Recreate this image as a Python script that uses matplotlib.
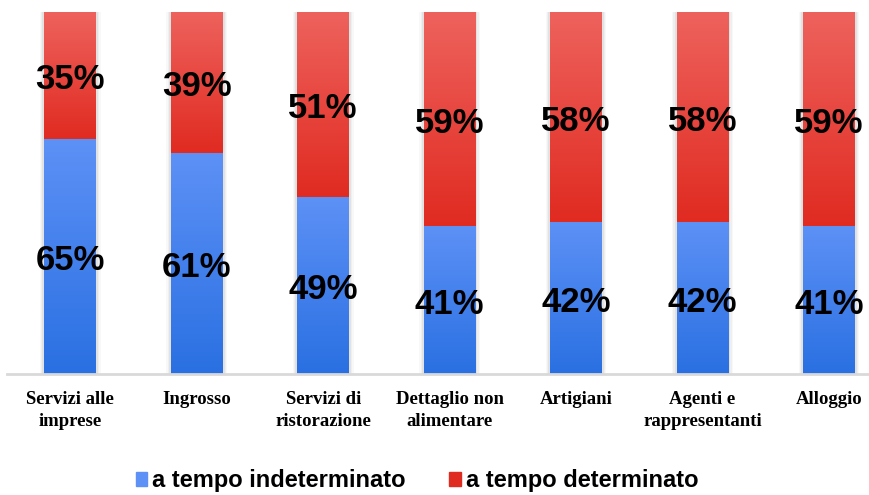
import numpy as np
import matplotlib
matplotlib.use("Agg")
import matplotlib.pyplot as plt
from matplotlib.patches import Patch
from matplotlib.colors import LinearSegmentedColormap

categories = ["Servizi alle\nimprese", "Ingrosso", "Servizi di\nristorazione",
              "Dettaglio non\nalimentare", "Artigiani", "Agenti e\nrappresentanti", "Alloggio"]
indeterminato = [65, 61, 49, 41, 42, 42, 41]
determinato = [35, 39, 51, 59, 58, 58, 59]
series_names = ["a tempo indeterminato", "a tempo determinato"]

blue_top, blue_bot = "#5d91f6", "#2a70e2"
red_top, red_bot = "#ee625d", "#e02b21"

fig = plt.figure(figsize=(8.69, 4.95), dpi=100)
ax = fig.add_axes([7/869, 121/495, 862/869, 362/495])

x = np.arange(len(categories))
w = 0.41

# soft shadow
for extra, a in [(0.07, 0.06), (0.05, 0.08), (0.03, 0.12)]:
    ax.bar(x, [b + r for b, r in zip(indeterminato, determinato)], width=w + extra,
           color="#888888", alpha=a, linewidth=0, zorder=1)

b1 = ax.bar(x, indeterminato, width=w, color=blue_bot, linewidth=0, zorder=2)
b2 = ax.bar(x, determinato, width=w, bottom=indeterminato, color=red_bot, linewidth=0, zorder=2)

grad = np.linspace(0, 1, 256).reshape(-1, 1)
cm_blue = LinearSegmentedColormap.from_list("b", [blue_bot, blue_top])
cm_red = LinearSegmentedColormap.from_list("r", [red_bot, red_top])
for bars, cm in [(b1, cm_blue), (b2, cm_red)]:
    for p in bars:
        x0, y0, pw, ph = p.get_x(), p.get_y(), p.get_width(), p.get_height()
        im = ax.imshow(grad, cmap=cm, aspect="auto", origin="lower",
                       extent=(x0, x0 + pw, y0, y0 + ph), zorder=3, interpolation="bilinear")
        im.set_clip_path(p)

lab = dict(ha="center", va="baseline", fontsize=25, fontweight="bold",
           family="Liberation Sans", zorder=5, textcoords="offset points", xytext=(0, -10))
for i in range(len(categories)):
    ax.annotate(f"{indeterminato[i]}%", (x[i], indeterminato[i] / 2), **lab)
    ax.annotate(f"{determinato[i]}%", (x[i], indeterminato[i] + determinato[i] / 2), **lab)

ax.set_xlim(-0.5, 6.316)
ax.set_ylim(0, 100)
for s in ["top", "right", "left"]:
    ax.spines[s].set_visible(False)
ax.spines["bottom"].set_color("#d9d9d9")
ax.spines["bottom"].set_linewidth(2)
ax.spines["bottom"].set_zorder(6)
ax.set_yticks([])
ax.set_xticks(x)
ax.set_xticklabels(categories, family="Liberation Serif", fontweight="bold", fontsize=13.5,
                   linespacing=1.4)
ax.tick_params(axis="x", length=0, pad=12)

handles = [Patch(color=blue_top), Patch(color=red_bot)]
fig.legend(handles, series_names, loc="center", bbox_to_anchor=(417/869, 1 - 481/495),
           ncol=2, frameon=False, handlelength=0.5, handleheight=0.5, handletextpad=0.2,
           columnspacing=1.85, prop={"family": "Liberation Sans", "weight": "bold", "size": 17})

fig.savefig("out.png", dpi=100)
